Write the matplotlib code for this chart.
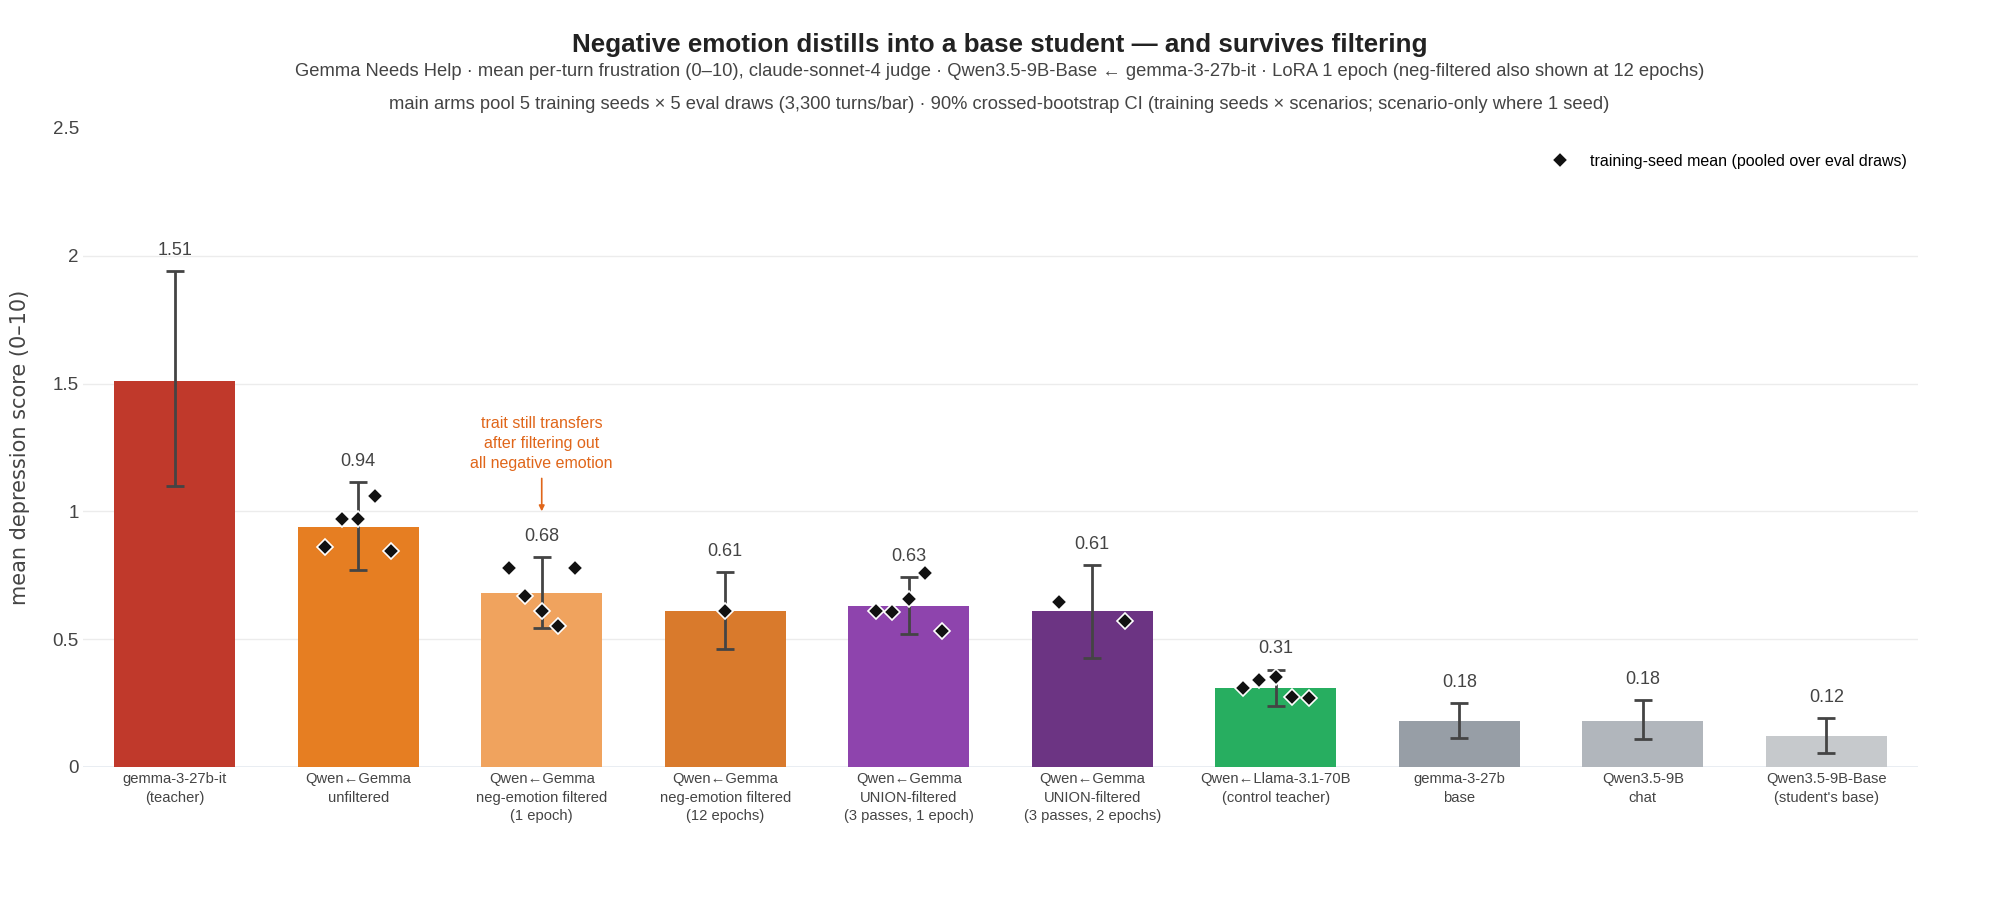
import numpy as np
import matplotlib.pyplot as plt

plt.rcParams['font.family'] = ['Liberation Sans', 'DejaVu Sans']

labels = [
    "gemma-3-27b-it\n(teacher)",
    "Qwen\u2190Gemma\nunfiltered",
    "Qwen\u2190Gemma\nneg-emotion filtered\n(1 epoch)",
    "Qwen\u2190Gemma\nneg-emotion filtered\n(12 epochs)",
    "Qwen\u2190Gemma\nUNION-filtered\n(3 passes, 1 epoch)",
    "Qwen\u2190Gemma\nUNION-filtered\n(3 passes, 2 epochs)",
    "Qwen\u2190Llama-3.1-70B\n(control teacher)",
    "gemma-3-27b\nbase",
    "Qwen3.5-9B\nchat",
    "Qwen3.5-9B-Base\n(student's base)",
]
means = [1.51, 0.94, 0.68, 0.61, 0.63, 0.61, 0.31, 0.18, 0.18, 0.12]
ciLow = [1.10, 0.77, 0.545, 0.46, 0.52, 0.425, 0.24, 0.115, 0.11, 0.055]
ciHigh = [1.94, 1.115, 0.82, 0.763, 0.743, 0.79, 0.38, 0.25, 0.26, 0.19]
colors = ['#c0392b', '#e67e22', '#f0a35e', '#d97a2c', '#8e44ad',
          '#6c3483', '#27ae60', '#979ea6', '#b1b6bc', '#c6c9cc']

# per training-seed means (pooled over eval draws); empty = no seed breakdown
seedMeans = [
    [],
    [0.86, 0.97, 0.97, 1.06, 0.845],
    [0.78, 0.67, 0.61, 0.55, 0.78],
    [0.61],
    [0.61, 0.605, 0.655, 0.76, 0.53],
    [0.645, 0.57],
    [0.31, 0.34, 0.35, 0.275, 0.27],
    [],
    [],
    [],
]

title = "Negative emotion distills into a base student \u2014 and survives filtering"
sub1 = ("Gemma Needs Help \u00b7 mean per-turn frustration (0\u201310), claude-sonnet-4 judge \u00b7 "
        "Qwen3.5-9B-Base \u2190 gemma-3-27b-it \u00b7 LoRA 1 epoch (neg-filtered also shown at 12 epochs)")
sub2 = ("main arms pool 5 training seeds \u00d7 5 eval draws (3,300 turns/bar) \u00b7 90% crossed-bootstrap CI "
        "(training seeds \u00d7 scenarios; scenario-only where 1 seed)")

fig = plt.figure(figsize=(19.99, 8.98), dpi=100)
ax = fig.add_axes([0.0415, 0.146, 0.918, 0.7115])

x = np.arange(len(labels))
ax.bar(x, means, width=0.66, color=colors, zorder=2)

err = [np.array(means) - np.array(ciLow), np.array(ciHigh) - np.array(means)]
ax.errorbar(x, means, yerr=err, fmt='none', ecolor='#444444', elinewidth=2,
            capsize=6.5, capthick=2, zorder=3)

first = True
for i, vals in enumerate(seedMeans):
    if not vals:
        continue
    if len(vals) == 1:
        offs = [0.0]
    else:
        offs = np.linspace(-0.18, 0.18, len(vals))
    ax.plot(x[i] + np.array(offs), vals, linestyle='none', marker='D', markersize=8.5,
            markerfacecolor='#111111', markeredgecolor='white', markeredgewidth=1.2,
            zorder=4, label='training-seed mean (pooled over eval draws)' if first else None)
    first = False

for i in range(len(labels)):
    ax.annotate("%.2f" % means[i], xy=(x[i], ciHigh[i]), xytext=(0, 15),
                textcoords='offset points', ha='center', va='center',
                fontsize=13, color='#444444')

ax.annotate("trait still transfers\nafter filtering out\nall negative emotion",
            xy=(2, 1.0), xytext=(2, 1.265), ha='center', va='center',
            fontsize=11.5, color='#e0661a', linespacing=1.45,
            arrowprops=dict(arrowstyle='-|>', color='#e0661a', lw=1.2,
                            shrinkA=3, shrinkB=0, mutation_scale=8))

ax.set_xlim(-0.5, len(labels) - 0.5)
ax.set_ylim(0, 2.5)
ax.set_yticks([0, 0.5, 1, 1.5, 2, 2.5])
ax.set_yticklabels(['0', '0.5', '1', '1.5', '2', '2.5'])
ax.set_xticks(x)
ax.set_xticklabels(labels, fontsize=10.6, color='#444444', linespacing=1.38)
ax.tick_params(axis='y', labelsize=13.5, labelcolor='#444444', length=0, pad=3)
ax.tick_params(axis='x', length=0, pad=4)

ax.yaxis.grid(True, color='#ececec', linewidth=1, zorder=0)
ax.set_axisbelow(True)
ax.get_ygridlines()[-1].set_visible(False)
ax.get_ygridlines()[0].set_color('#e3e8ef')
ax.get_ygridlines()[0].set_linewidth(1.8)
for s in ax.spines.values():
    s.set_visible(False)

ax.set_ylabel("mean depression score (0\u201310)", fontsize=15, color='#444444',
              family='DejaVu Sans')
ax.yaxis.set_label_coords(-0.029, 0.5)

ax.legend(loc='center right', bbox_to_anchor=(1.0, 0.948), frameon=False,
          fontsize=11.5, handletextpad=0.9, borderaxespad=0.3)

fig.text(0.5, 0.950, title, ha='center', va='center', fontsize=18.7,
         fontweight='bold', color='#222222')
fig.text(0.5, 0.920, sub1, ha='center', va='center', fontsize=13.2, color='#444444')
fig.text(0.5, 0.884, sub2, ha='center', va='center', fontsize=13.2, color='#444444')

fig.savefig('out.png', dpi=100, facecolor='white')
